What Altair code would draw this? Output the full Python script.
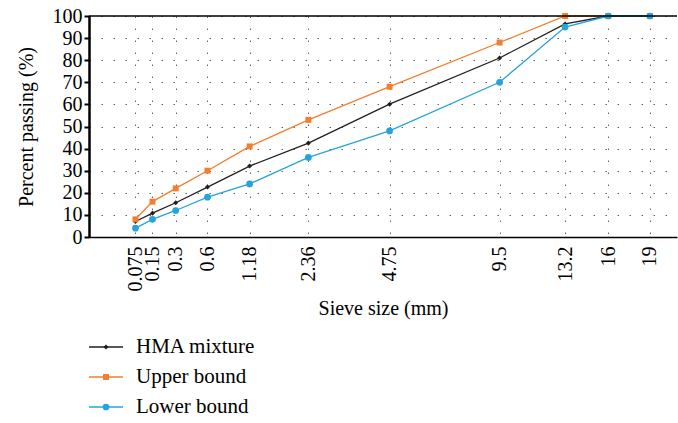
import altair as alt
import pandas as pd

sieve = [0.075, 0.15, 0.3, 0.6, 1.18, 2.36, 4.75, 9.5, 13.2, 16, 19]
hma = [7, 10.8, 15.5, 22.6, 32.1, 42.5, 60.1, 81, 96.4, 100, 100]
upper = [8, 16, 22, 30, 41, 53, 68, 88, 100, 100, 100]
lower = [4, 8, 12, 18, 24, 36, 48, 70, 95, 100, 100]

names = ["HMA mixture", "Upper bound", "Lower bound"]
colors = ["#231F20", "#F27E2E", "#26A3DB"]
shapes = ["diamond", "square", "circle"]
sizes = [26, 45, 42]
yticks = list(range(0, 101, 10))

rows = []
for name, vals in zip(names, [hma, upper, lower]):
    for s, v in zip(sieve, vals):
        rows.append({"sieve": s, "pct": v, "series": name})
df = pd.DataFrame(rows)

FONT = "Liberation Serif"
color_enc = alt.Color("series:N", scale=alt.Scale(domain=names, range=colors), legend=None)
shape_enc = alt.Shape("series:N", scale=alt.Scale(domain=names, range=shapes), legend=None)
size_enc = alt.Size("series:N", scale=alt.Scale(domain=names, range=sizes), legend=None)

xenc = alt.X(
    "sieve:Q",
    scale=alt.Scale(type="pow", exponent=0.45, domain=[0, 21.1], nice=False),
    axis=alt.Axis(
        values=sieve, labelAngle=-90, ticks=False, labelPadding=9,
        labelExpr="datum.value + ''", labelOverlap=False, labelFlush=False,
        title="Sieve size (mm)", titlePadding=7,
        domainColor="black", domainWidth=1.5,
        grid=True, gridDash=[1.5, 10.5], gridColor="#666666", gridWidth=1,
    ),
)
yenc = alt.Y(
    "pct:Q",
    scale=alt.Scale(domain=[0, 100], nice=False),
    axis=alt.Axis(
        values=yticks, tickSize=5, tickColor="black", tickWidth=2,
        domainColor="black", domainWidth=2.5, labelPadding=2, labelOverlap=False,
        title="Percent passing (%)", titlePadding=16,
        grid=True, gridDash=[1.5, 10.5], gridColor="#666666", gridWidth=1,
    ),
)

layers = []
for name in names:
    base = alt.Chart(df).transform_filter(alt.datum.series == name).encode(x=xenc, y=yenc, color=color_enc)
    layers.append(base.mark_line(strokeWidth=1.3))
    layers.append(base.mark_point(filled=True, opacity=1).encode(shape=shape_enc, size=size_enc))
top = alt.Chart(pd.DataFrame({"pct": [100]})).mark_rule(color="black", strokeWidth=1.5).encode(y=yenc)
layers.append(top)

main = alt.layer(*layers).properties(width=588, height=221)

leg_df = pd.DataFrame({"series": names})
lbase = alt.Chart(leg_df).encode(
    y=alt.Y("series:N", sort=names, axis=None, scale=alt.Scale(type="point", padding=0)),
    color=color_enc,
)
lrule = lbase.mark_rule(strokeWidth=1.3).encode(x=alt.value(0), x2=alt.value(34))
lpts = lbase.mark_point(filled=True, opacity=1).encode(x=alt.value(17), shape=shape_enc, size=size_enc)
ltxt = lbase.mark_text(align="left", baseline="middle", fontSize=21, font=FONT).encode(
    x=alt.value(47), text="series:N", color=alt.value("black"))
legend = alt.layer(lrule, lpts, ltxt).properties(width=200, height=60)

chart = alt.vconcat(main, legend, spacing=18).properties(
    padding={"left": 16, "top": 6, "right": 0, "bottom": 0},
    background="white",
).configure_view(stroke=None).configure_axis(
    labelFont=FONT, titleFont=FONT, labelFontSize=20, titleFontSize=20,
    labelColor="black", titleColor="black", titleFontWeight="normal",
)

chart.save("out.html", embed_options={"renderer": "svg", "actions": False})
